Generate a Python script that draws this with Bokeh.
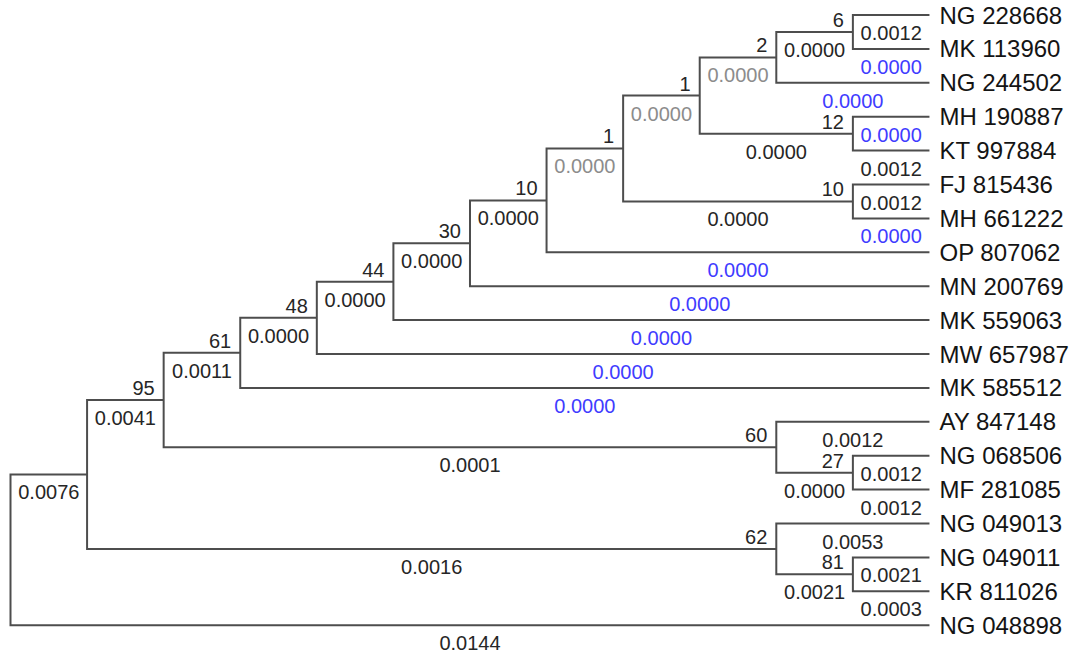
from bokeh.plotting import figure
from bokeh.models import ColumnDataSource, Range1d
from bokeh.core.properties import value
from bokeh.embed import file_html
from bokeh.resources import INLINE

# ---- data ----
leaves = ["NG 228668", "MK 113960", "NG 244502", "MH 190887", "KT 997884",
          "FJ 815436", "MH 661222", "OP 807062", "MN 200769", "MK 559063",
          "MW 657987", "MK 585512", "AY 847148", "NG 068506", "MF 281085",
          "NG 049013", "NG 049011", "KR 811026", "NG 048898"]

internal_nodes = ["root", "nB", "n95", "n61", "n48", "n44", "n30", "n10a", "n1a",
                  "n1b", "n2", "n6", "n12", "n10b", "n60", "n27", "n62", "n81"]
internal_children = [
    ["nB", "NG 048898"],
    ["n95", "n62"],
    ["n61", "n60"],
    ["n48", "MK 585512"],
    ["n44", "MW 657987"],
    ["n30", "MK 559063"],
    ["n10a", "MN 200769"],
    ["n1a", "OP 807062"],
    ["n1b", "n10b"],
    ["n2", "n12"],
    ["n6", "NG 244502"],
    ["NG 228668", "MK 113960"],
    ["MH 190887", "KT 997884"],
    ["FJ 815436", "MH 661222"],
    ["AY 847148", "n27"],
    ["NG 068506", "MF 281085"],
    ["NG 049013", "n81"],
    ["NG 049011", "KR 811026"],
]

bootstrap_nodes = ["n95", "n61", "n48", "n44", "n30", "n10a", "n1a", "n1b",
                   "n2", "n6", "n12", "n10b", "n60", "n27", "n62", "n81"]
bootstrap_values = [95, 61, 48, 44, 30, 10, 1, 1, 2, 6, 12, 10, 60, 27, 62, 81]

branch_nodes = ["nB", "NG 048898", "n95", "n62", "n61", "n60", "n48", "MK 585512",
                "n44", "MW 657987", "n30", "MK 559063", "n10a", "MN 200769",
                "n1a", "OP 807062", "n1b", "n10b", "n2", "n12", "n6", "NG 244502",
                "NG 228668", "MK 113960", "MH 190887", "KT 997884", "FJ 815436",
                "MH 661222", "AY 847148", "n27", "NG 068506", "MF 281085",
                "NG 049013", "n81", "NG 049011", "KR 811026"]
branch_lengths = [0.0076, 0.0144, 0.0041, 0.0016, 0.0011, 0.0001, 0.0000, 0.0000,
                  0.0000, 0.0000, 0.0000, 0.0000, 0.0000, 0.0000,
                  0.0000, 0.0000, 0.0000, 0.0000, 0.0000, 0.0000, 0.0000, 0.0000,
                  0.0012, 0.0000, 0.0000, 0.0012, 0.0012,
                  0.0000, 0.0012, 0.0000, 0.0012, 0.0012,
                  0.0053, 0.0021, 0.0021, 0.0003]
branch_classes = ["k", "k", "k", "k", "k", "k", "k", "b",
                  "k", "b", "k", "b", "k", "b",
                  "g", "b", "g", "k", "g", "k", "k", "b",
                  "k", "b", "b", "k", "k",
                  "b", "k", "k", "k", "k",
                  "k", "k", "k", "k"]

# ---- layout (cladogram) ----
children = dict(zip(internal_nodes, internal_children))
height = {}
def h(n):
    if n not in children:
        height[n] = 0
        return 0
    v = 1 + max(h(c) for c in children[n])
    height[n] = v
    return v
maxh = h("root")
X = {n: maxh - height[n] for n in height}
Y = {name: i for i, name in enumerate(leaves)}
def gy(n):
    if n in Y:
        return Y[n]
    ys = [gy(c) for c in children[n]]
    Y[n] = (min(ys) + max(ys)) / 2.0
    return Y[n]
gy("root")
parent = {c: p for p, cs in children.items() for c in cs}

LINE = "#4d4d4d"
COLORS = {"k": "#262626", "b": "#3f3cff", "g": "#8c8c8c"}
FONT = value("Liberation Sans")

W, H = 1069, 653
px_per_x = 76.58
px_per_y = 33.9
x0_px, y0_px = 10.0, 14.5

p = figure(width=W, height=H, output_backend="svg", toolbar_location=None,
           x_range=Range1d(-x0_px / px_per_x, (W - x0_px) / px_per_x),
           y_range=Range1d((H - y0_px) / px_per_y, -y0_px / px_per_y),
           min_border=0)
p.axis.visible = False
p.xgrid.visible = False
p.ygrid.visible = False
p.outline_line_color = None
p.background_fill_color = "white"
p.border_fill_color = "white"

# brackets
xs, ys = [], []
for n, cs in children.items():
    c1, c2 = cs
    xs.append([X[c1], X[n], X[n], X[c2]])
    ys.append([Y[c1], Y[c1], Y[c2], Y[c2]])
p.multi_line(xs=xs, ys=ys, line_color=LINE, line_width=2, line_join="miter")

# branch length labels
bl = ColumnDataSource(dict(
    x=[(X[parent[n]] + X[n]) / 2.0 for n in branch_nodes],
    y=[Y[n] for n in branch_nodes],
    t=["%.4f" % v for v in branch_lengths],
    c=[COLORS[k] for k in branch_classes]))
p.text(x="x", y="y", text="t", source=bl, text_color="c", text_font=FONT,
       text_font_size="20px", text_align="center", text_baseline="middle",
       y_offset=18)

# bootstrap labels
bs = ColumnDataSource(dict(
    x=[X[n] for n in bootstrap_nodes],
    y=[Y[n] for n in bootstrap_nodes],
    t=[str(v) for v in bootstrap_values]))
p.text(x="x", y="y", text="t", source=bs, text_color="#262626", text_font=FONT,
       text_font_size="20px", text_align="right", text_baseline="middle",
       x_offset=-9, y_offset=-12)

# leaf labels
lf = ColumnDataSource(dict(x=[X[n] for n in leaves], y=[Y[n] for n in leaves], t=leaves))
p.text(x="x", y="y", text="t", source=lf, text_color="#141414", text_font=FONT,
       text_font_size="24px", text_align="left", text_baseline="middle",
       x_offset=10)

open("out.html", "w").write(file_html(p, INLINE))
